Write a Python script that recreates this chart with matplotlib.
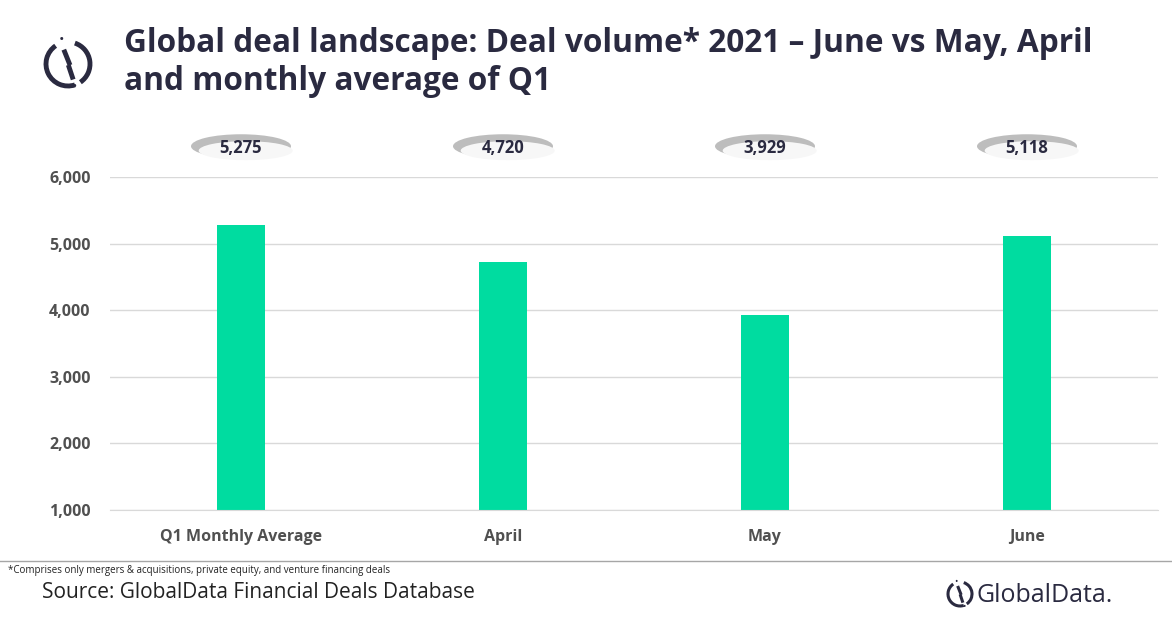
import matplotlib.pyplot as plt
from matplotlib.patches import Ellipse, Arc
from matplotlib.lines import Line2D

categories = ["Q1 Monthly Average", "April", "May", "June"]
deal_volume = [5275, 4720, 3929, 5118]
yticks = [1000, 2000, 3000, 4000, 5000, 6000]

BAR = "#00dca0"
DARK = "#2a2a40"

plt.rcParams["font.family"] = ["Open Sans", "DejaVu Sans"]
fig = plt.figure(figsize=(11.72, 6.28), dpi=100)
W, H = 1172, 628

ax = fig.add_axes([110 / W, 1 - 510 / H, 1048 / W, 333 / H])
x = range(len(categories))
ax.bar(x, deal_volume, width=0.185, color=BAR, zorder=2)
ax.set_xlim(-0.5, 3.5)
ax.set_ylim(1000, 6000)
ax.set_yticks(yticks)
ax.set_yticklabels([f"{v:,}" for v in yticks], fontsize=11.5, fontweight="bold", color="#505050")
ax.set_xticks(list(x))
ax.set_xticklabels(categories, fontsize=11.5, fontweight="bold", color="#505050")
ax.tick_params(length=0, axis="y", pad=14)
ax.tick_params(length=0, axis="x", pad=14)
ax.grid(axis="y", color="#d9d9d9", lw=1, zorder=0)
for s in ["top", "right", "left"]:
    ax.spines[s].set_visible(False)
ax.spines["bottom"].set_color("#d9d9d9")

# value labels in pill-shaped ellipses above the plot
for i, v in enumerate(deal_volume):
    px = ax.transData.transform((i, 0))[0] / W
    py = 1 - 145 / H
    fig.patches.append(Ellipse((px, py - 0.002), 100 / W, 24 / H, transform=fig.transFigure,
                               facecolor="#bdbdbd", edgecolor="none"))
    fig.patches.append(Ellipse((px + 0.004, py - 0.009), 94 / W, 19 / H, transform=fig.transFigure,
                               facecolor="#f7f7f7", edgecolor="none"))
    fig.text(px, py - 0.004, f"{v:,}", ha="center", va="center", fontsize=12,
             fontweight="bold", color=DARK)

fig.text(124 / W, 1 - 62 / H, "Global deal landscape: Deal volume* 2021 \u2013 June vs May, April\nand monthly average of Q1",
         fontsize=22.8, fontweight="bold", color=DARK, va="center", linespacing=1.2)


def logo(cx, cy, r, lw):
    # simple GlobalData-like mark in pixel coords
    fig.patches.append(Arc((cx / W, 1 - cy / H), 2 * r / W, 2 * r / H, theta1=110, theta2=280,
                           transform=fig.transFigure, color=DARK, lw=lw))
    fig.patches.append(Arc((cx / W, 1 - cy / H), 2 * r / W, 2 * r / H, theta1=-70, theta2=80,
                           transform=fig.transFigure, color=DARK, lw=lw))
    fig.lines.append(Line2D([(cx - r * 0.15) / W, (cx + r * 0.05) / W],
                            [1 - (cy - r * 0.55) / H, 1 - (cy - r * 0.05) / H],
                            transform=fig.transFigure, color=DARK, lw=lw))
    fig.lines.append(Line2D([(cx + r * 0.05) / W, (cx + r * 0.2) / W],
                            [1 - (cy + r * 0.15) / H, 1 - (cy + r * 0.6) / H],
                            transform=fig.transFigure, color=DARK, lw=lw))
    fig.text((cx - r * 0.3) / W, 1 - (cy - r * 1.05) / H, "\u2022", ha="center", va="center",
             fontsize=lw * 3, color=DARK)
    fig.text((cx + r * 0.3) / W, 1 - (cy + r * 1.05) / H, "\u2022", ha="center", va="center",
             fontsize=lw * 3, color=DARK)


logo(68, 64, 22, 3.5)
logo(960, 594, 12, 2.2)
fig.text(977 / W, 1 - 595 / H, "GlobalData.", fontsize=18, color=DARK, va="center")

fig.lines.append(Line2D([0, 1], [1 - 561 / H, 1 - 561 / H], transform=fig.transFigure,
                        color="#a6a6a6", lw=1))
fig.text(8 / W, 1 - 571 / H, "*Comprises only mergers & acquisitions, private equity, and venture financing deals",
         fontsize=7, color="#222222", va="center")
fig.text(42 / W, 1 - 593 / H, "Source: GlobalData Financial Deals Database", fontsize=15,
         color="#222222", va="center")

fig.savefig("out.png", dpi=100, facecolor="white")
